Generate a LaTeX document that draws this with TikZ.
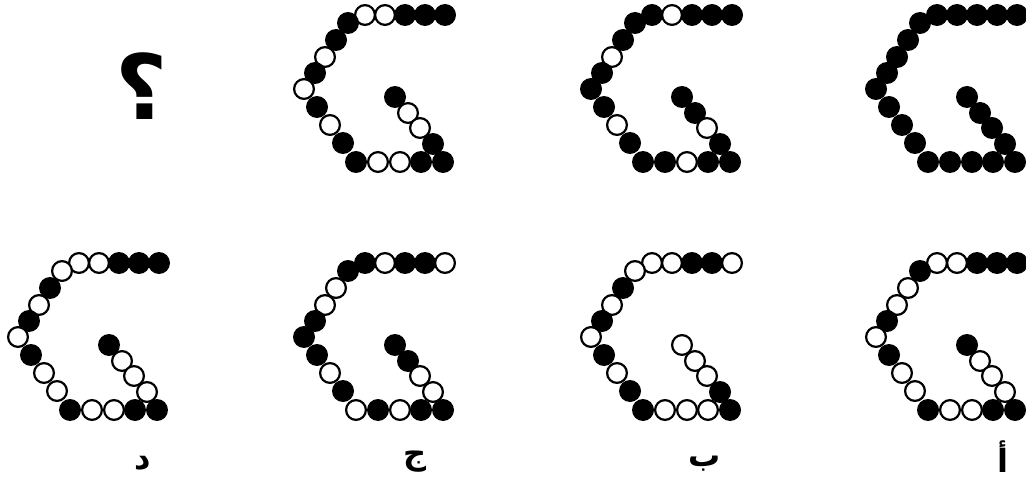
\documentclass[tikz,border=0pt]{standalone}
\usepackage{fontspec}
\newfontfamily\arabicfont[Script=Arabic]{DejaVu Sans}
\TeXXeTstate=1
\tikzset{
  bead/.style={fill=black},
  hollow/.style={draw=black,line width=2.2pt,fill=white},
  lbl/.style={font=\arabicfont\bfseries\fontsize{32}{36}\selectfont,inner sep=0pt},
}
\newcommand\drawG[3]{%
  \foreach \c [count=\i from 0] in {#3} {%
    \pgfmathsetmacro\dx{{-78,-58,-38,-18,2,-95,-107,-118,-128,-139,-126,-113,-100,-87,-65,-43,-22,0,-48,-35,-23,-10}[\i]}%
    \pgfmathsetmacro\dy{{-147,-147,-147,-147,-147,-139,-122,-105,-89,-73,-55,-37,-19,0,0,0,0,0,-65,-49,-34,-18}[\i]}%
    \ifnum\c=1
      \fill[bead] (#1+\dx,#2+\dy) circle (11pt);
    \else
      \draw[hollow] (#1+\dx,#2+\dy) circle (9.9pt);
    \fi
  }%
}
\begin{document}
\begin{tikzpicture}[x=1pt,y=-1pt]
\useasboundingbox (0,0) rectangle (1026,484);
\fill[white] (0,0) rectangle (1026,484);
% top row
\node[font=\arabicfont\bfseries\fontsize{90}{100}\selectfont,inner sep=0pt] (q) at (142,86) {\beginR ؟\endR};
\drawG{443}{162}{0,0,1,1,1, 1,1,0,1,0, 1,0,1, 1,0,0,1,1, 1,0,0,1}
\drawG{730}{162}{1,0,1,1,1, 1,1,0,1,1, 1,0,1, 1,1,0,1,1, 1,1,0,1}
\drawG{1015}{162}{1,1,1,1,1, 1,1,1,1,1, 1,1,1, 1,1,1,1,1, 1,1,1,1}
% bottom row
\drawG{157}{410}{0,0,1,1,1, 0,1,0,1,0, 1,0,0, 1,0,0,1,1, 1,0,0,0}
\drawG{443}{410}{1,0,1,1,0, 1,0,0,1,1, 1,0,1, 0,1,0,1,1, 1,1,0,0}
\drawG{730}{410}{0,0,1,1,0, 0,1,0,1,0, 1,0,1, 1,0,0,0,1, 0,0,0,1}
\drawG{1015}{410}{0,0,1,1,1, 1,0,0,1,0, 1,0,0, 1,0,0,1,1, 1,0,0,0}
% labels
\node[lbl] (ld) at (143,463) {\beginR د\endR};
\node[lbl] (lj) at (415,462) {\beginR ج\endR};
\node[lbl] (lb) at (705,464) {\beginR ب\endR};
\node[lbl] (la) at (1003,457) {\beginR أ\endR};
\end{tikzpicture}
\end{document}
